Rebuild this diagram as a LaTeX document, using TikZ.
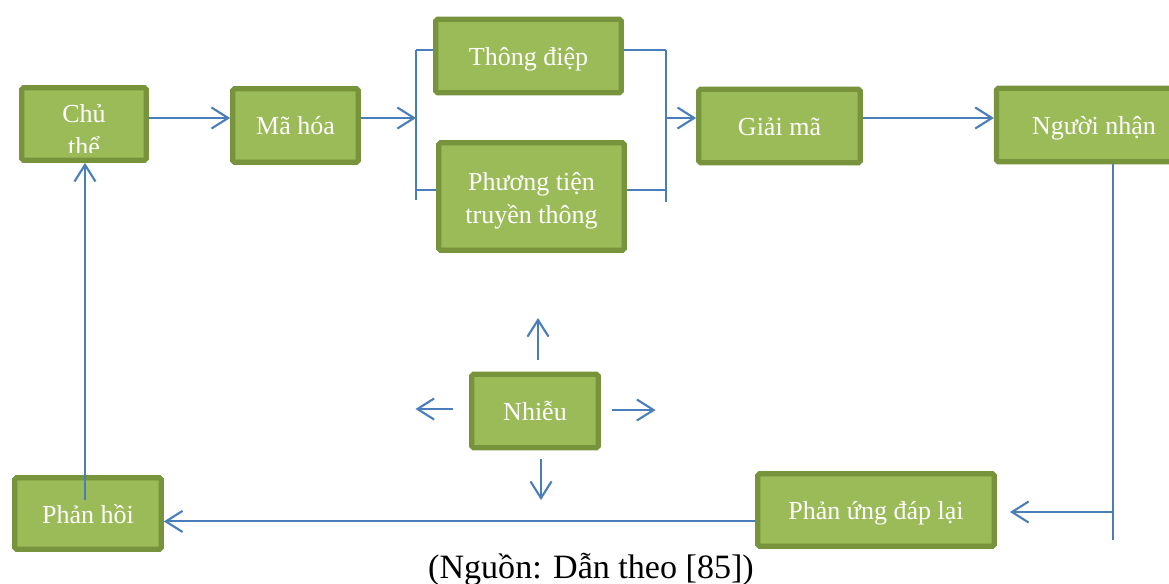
\documentclass[tikz,border=0pt]{standalone}
\usepackage{fontspec}
\setmainfont{Liberation Serif}
\usepackage{xcolor}
\usetikzlibrary{arrows.meta,positioning,calc}
\definecolor{boxfill}{HTML}{9BBB59}
\definecolor{boxedge}{HTML}{77933C}
\definecolor{flow}{HTML}{4A7EBB}

\begin{document}
\begin{tikzpicture}[
    x=0.02cm, y=-0.02cm,
    box/.style={draw=boxedge, fill=boxfill, line width=3pt, rounded corners=1pt,
        minimum height=1.47cm, text=white, align=center,
        text height=12.6pt, text depth=1.8pt,
        font=\fontsize{14.8}{19}\selectfont},
    boxtext/.style={text=white, align=center, font=\fontsize{14.8}{19}\selectfont},
    link/.style={draw=flow, line width=1.2pt},
    arr/.style={link, -{Straight Barb[length=9.5pt,width=12pt]}},
    caption/.style={font=\fontsize{19.4}{22}\selectfont}
]
    \useasboundingbox[fill=white] (0,0) rectangle (1169,583);

    % Top row
    \node[box, minimum width=2.49cm, minimum height=1.45cm] (chu) at (84,124) {};
    \node[box, minimum width=2.51cm] (ma) at (295.5,125.5) {Mã hóa};
    \node[box, minimum width=3.71cm] (diep) at (528.5,56) {Thông điệp};
    \node[box, minimum width=3.71cm, minimum height=2.15cm] (ptien) at (531.5,196.5) {};
    \node[boxtext, yshift=-2.5pt] (ptientext) at (ptien) {Phương tiện\\truyền thông};
    \node[box, minimum width=3.23cm] (giai) at (779.5,126) {Giải mã};
    \node[box, minimum width=3.9cm] (nhan) at (1094,125) {Người nhận};

    % Text of the first box, cut at its lower edge
    \begin{scope}
        \clip (chu.north west) rectangle ([shift={(0,-10)}]chu.south east);
        \node[boxtext, yshift=-3.4pt] (chutext) at (chu) {Chủ\\thể};
    \end{scope}

    % Noise and feedback
    \node[box, minimum width=2.53cm] (nhieu) at (535,411) {Nhiễu};
    \node[box, minimum width=2.93cm, minimum height=1.43cm] (hoi) at (88,513.5) {Phản hồi};
    \node[box, minimum width=4.73cm, minimum height=1.45cm] (ung) at (876,510) {Phản ứng đáp lại};

    % Brackets round the channel
    \coordinate (lbt) at (416,50);
    \coordinate (lbl) at (416,190);
    \coordinate (lbb) at (416,200);
    \coordinate (lbm) at (416,118);
    \coordinate (rbt) at (666,50);
    \coordinate (rbl) at (666,190);
    \coordinate (rbb) at (666,202);
    \coordinate (rbm) at (666,118);
    \draw[link] (lbt) -- (lbb);
    \draw[link] (lbt) -- (lbt -| diep.west);
    \draw[link] (lbl) -- (lbl -| ptien.west);
    \draw[link] (rbt) -- (rbb);
    \draw[link] (rbt) -- (rbt -| diep.east);
    \draw[link] (rbl) -- (rbl -| ptien.east);

    % Connections
    \draw[arr] (chu.east |- lbm) -- (ma.west |- lbm);
    \draw[arr] (ma.east |- lbm) -- (lbm);
    \draw[arr] (rbm) -- (giai.west |- rbm);
    \draw[arr] (giai.east |- lbm) -- (nhan.west |- lbm);

    % Return path
    \coordinate (rbot) at (1113,540);
    \coordinate (rturn) at (1113,512);
    \coordinate (rtip) at (1010,512);
    \coordinate (hoiin) at (85,500);
    \draw[link] (nhan.south -| rbot) -- (rbot);
    \draw[arr] (rturn) -- (rtip);
    \draw[arr] ([yshift=-6.5pt]ung.west) -- ([yshift=-6.5pt]ung.west -| hoi.east);
    \draw[arr] (hoiin) -- (hoiin |- chu.south);

    % Noise spreading out
    \draw[arr] ([shift={(3,-11.65)}]nhieu.north) -- ++(0,-42);
    \draw[arr] ([shift={(-15.65,-2)}]nhieu.west) -- ++(-38,0);
    \draw[arr] ([shift={(10.65,-1)}]nhieu.east) -- ++(44,0);
    \draw[arr] ([shift={(6,8.65)}]nhieu.south) -- ++(0,41);

    % Source
    \node[caption, anchor=base] (nguon) at (591,578) {(Nguồn: Dẫn theo [85])};
\end{tikzpicture}
\end{document}
